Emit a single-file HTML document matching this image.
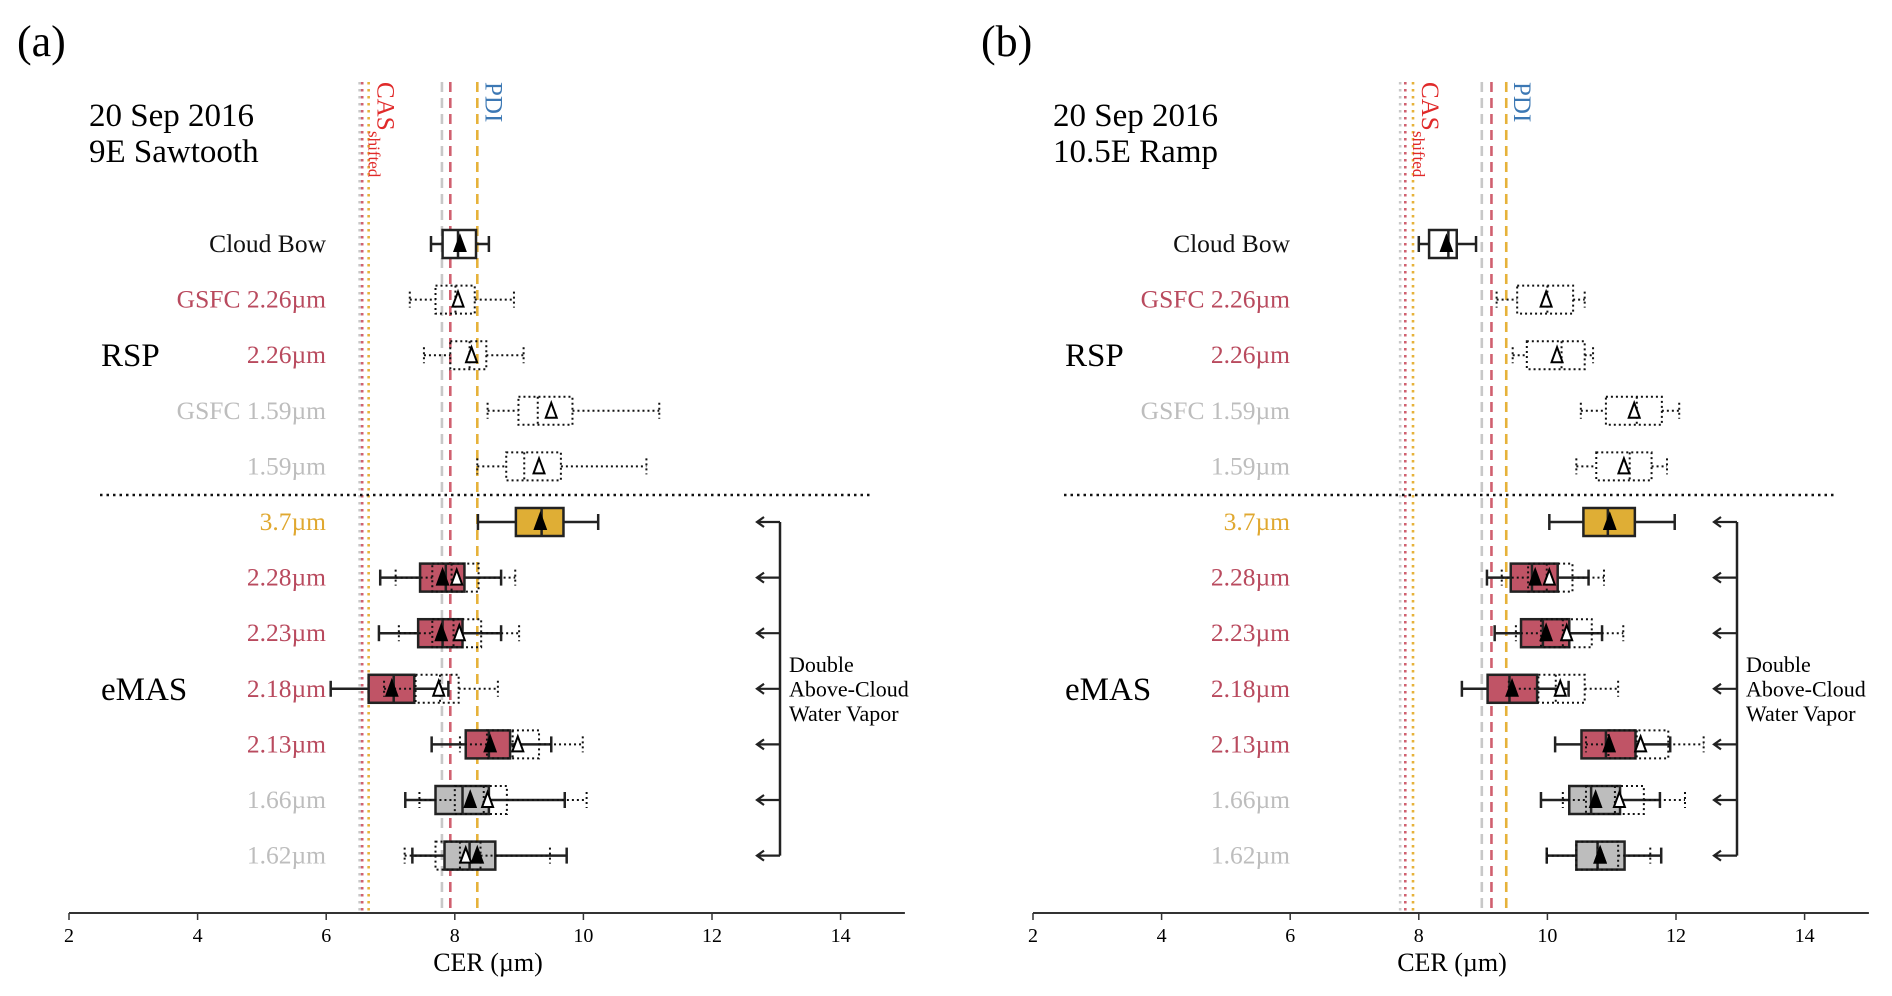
<!DOCTYPE html>
<html><head><meta charset="utf-8"><style>
html,body{margin:0;padding:0;background:#fff;}
svg{display:block;font-family:"Liberation Serif",serif;}
</style></head><body>
<svg id="chart" width="1892" height="996" viewBox="0 0 1892 996" xmlns="http://www.w3.org/2000/svg"></svg>
<script>
const rowLabels = ["Cloud Bow","GSFC 2.26µm","2.26µm","GSFC 1.59µm","1.59µm","3.7µm","2.28µm","2.23µm","2.18µm","2.13µm","1.66µm","1.62µm"];
const rowKinds = ["white","none","none","none","none","yellow","red","red","red","red","gray","gray"];
const labelColors = ["#111","#b94a5e","#b94a5e","#bdbdbd","#bdbdbd","#e0a830","#b94a5e","#b94a5e","#b94a5e","#b94a5e","#bdbdbd","#bdbdbd"];
const ticks = [2,4,6,8,10,12,14];
// [whiskerLow, q1, median, q3, whiskerHigh, mean]
const aSolid = [[7.63,7.81,8.05,8.33,8.53,8.08],null,null,null,null,[8.36,8.95,9.35,9.69,10.23,9.33],[6.84,7.46,7.86,8.15,8.72,7.81],[6.82,7.43,7.81,8.12,8.72,7.79],[6.07,6.66,7.05,7.37,7.90,7.02],[7.64,8.17,8.53,8.86,9.50,8.55],[7.23,7.70,8.12,8.53,9.71,8.24],[7.34,7.84,8.23,8.63,9.74,8.35]];
const aDotted = [null,[7.30,7.70,8.01,8.31,8.92,8.05],[7.52,7.93,8.23,8.49,9.07,8.26],[8.51,8.99,9.29,9.83,11.18,9.50],[8.35,8.80,9.08,9.65,10.98,9.31],null,[7.08,7.65,7.95,8.37,8.94,8.03],[7.13,7.65,7.98,8.41,9.00,8.07],[6.9,7.39,7.77,8.06,8.67,7.75],[8.08,8.5,8.9,9.31,9.99,8.98],[7.45,8.0,8.45,8.81,10.05,8.51],[7.22,7.70,8.08,8.4,9.48,8.17]];
const bSolid = [[8.00,8.16,8.46,8.59,8.89,8.43],null,null,null,null,[10.03,10.56,10.94,11.36,11.98,10.97],[9.06,9.43,9.76,10.16,10.64,9.81],[9.18,9.59,9.93,10.34,10.85,9.98],[8.67,9.07,9.41,9.84,10.33,9.45],[10.12,10.53,10.91,11.37,11.91,10.96],[9.90,10.34,10.68,11.13,11.75,10.75],[9.99,10.45,10.78,11.20,11.77,10.82]];
const bDotted = [null,[9.21,9.53,10.0,10.40,10.58,9.98],[9.46,9.68,10.22,10.58,10.71,10.15],[10.52,10.91,11.39,11.78,12.05,11.35],[10.45,10.76,11.28,11.62,11.86,11.19],null,[9.29,9.7,9.99,10.39,10.88,10.03],[9.51,9.9,10.24,10.69,11.18,10.30],[9.4,9.86,10.13,10.58,11.10,10.2],[10.6,10.95,11.39,11.88,12.43,11.45],[10.24,10.6,11.05,11.50,12.14,11.12],[9.99,10.45,10.78,11.1,11.6,10.82]];
// reference lines: [CAS grey dotted, CAS pink dotted, CAS yellow dotted, grey dashed, red dashed, PDI yellow dashed]
const aRefs = [6.52,6.56,6.66,7.80,7.93,8.35];
const bRefs = [7.71,7.79,7.91,8.98,9.13,9.36];

const NS="http://www.w3.org/2000/svg";
const svg=document.getElementById('chart');
function mk(tag,attrs,parent){const e=document.createElementNS(NS,tag);for(const k in attrs)e.setAttribute(k,attrs[k]);(parent||svg).appendChild(e);return e;}
const fills={white:"#fff",yellow:"#dfae35",red:"#c05466",gray:"#bdbdbd"};
const refColors=["#c8c8c8","#d0606f","#e6b23a","#c8c8c8","#d0606f","#e6b23a"];

function panel(ox, solid, dotted, refs, letter, subtitle, labelRight, bracketX, id){
  const g=mk('g',{});
  
  
  const X=v=>ox+(v-2)*64.3;
  const Y=i=>244+i*55.6;
  const axisY=913;
  let t=mk('text',{x:ox-52,y:56,'font-size':44},g);t.textContent='('+letter+')';
  
  t=mk('text',{x:ox+20,y:126,'font-size':33},g);t.textContent='20 Sep 2016';
  
  t=mk('text',{x:ox+20,y:162,'font-size':33},g);t.textContent=subtitle;
  
  refs.forEach((v,k)=>{
    const l=mk('line',{x1:X(v),x2:X(v),y1:82,y2:axisY,stroke:refColors[k],'stroke-width':2.6,'stroke-dasharray':k<3?'2.5 4.5':'10 6'},g);
    
  });
  let cx=X(refs[2])+9;
  t=mk('text',{x:0,y:0,'font-size':25,fill:'#e02a2a',transform:`translate(${cx},82) rotate(90)`},g);
  t.textContent='CAS';
  t=mk('text',{x:0,y:0,'font-size':17,fill:'#e02a2a',transform:`translate(${cx-9},131) rotate(90)`},g);
  t.textContent='shifted';
  t=mk('text',{x:0,y:0,'font-size':25,fill:'#3c78b4',transform:`translate(${X(refs[5])+8},82) rotate(90)`},g);
  t.textContent='PDI';
  let s=mk('line',{x1:ox+31,x2:ox+802,y1:495,y2:495,stroke:'#111','stroke-width':2.5,'stroke-dasharray':'2.5 4'},g);
  
  t=mk('text',{x:ox+32,y:366,'font-size':33},g);t.textContent='RSP';
  
  t=mk('text',{x:ox+32,y:700,'font-size':33},g);t.textContent='eMAS';
  
  rowLabels.forEach((lab,i)=>{
    const tt=mk('text',{x:labelRight,y:Y(i)+8,'font-size':25.5,'text-anchor':'end',fill:labelColors[i]},g);
    tt.textContent=lab;
    
    
  });
  function tri(x,y,filled){
    const p=mk('polygon',{points:`${x},${y-8} ${x-5.5},${y+7} ${x+5.5},${y+7}`,fill:filled?'#000':'#fff',stroke:'#000','stroke-width':2},g);
    
    
  }
  function box(d,i,dot){
    const y=Y(i), h=14, c=8;
    const st=dot?{stroke:'#111','stroke-width':2,'stroke-dasharray':'2 3',fill:'none'}:{stroke:'#222','stroke-width':2.5};
    const bg=mk('g',{},g);
    
    
    mk('line',Object.assign({x1:X(d[0]),x2:X(d[1]),y1:y,y2:y},st),bg);
    mk('line',Object.assign({x1:X(d[3]),x2:X(d[4]),y1:y,y2:y},st),bg);
    mk('line',Object.assign({x1:X(d[0]),x2:X(d[0]),y1:y-c,y2:y+c},st),bg);
    mk('line',Object.assign({x1:X(d[4]),x2:X(d[4]),y1:y-c,y2:y+c},st),bg);
    const r=Object.assign({x:X(d[1]),y:y-h,width:X(d[3])-X(d[1]),height:2*h},st);
    if(!dot)r.fill=fills[rowKinds[i]];
    mk('rect',r,bg);
    mk('line',Object.assign({x1:X(d[2]),x2:X(d[2]),y1:y-h,y2:y+h},st),bg);
  }
  solid.forEach((d,i)=>{if(d)box(d,i,false);});
  dotted.forEach((d,i)=>{if(d)box(d,i,true);});
  dotted.forEach((d,i)=>{if(d)tri(X(d[5]),Y(i),false);});
  solid.forEach((d,i)=>{if(d)tri(X(d[5]),Y(i),true);});
  const bl=mk('line',{x1:bracketX,x2:bracketX,y1:Y(5),y2:Y(11),stroke:'#222','stroke-width':2.5},g);
  
  for(let i=5;i<12;i++){
    const a=mk('path',{d:`M${bracketX},${Y(i)} H${bracketX-23} M${bracketX-16},${Y(i)-5} L${bracketX-23},${Y(i)} L${bracketX-16},${Y(i)+5}`,stroke:'#222','stroke-width':2.2,fill:'none'},g);
    
  }
  ['Double','Above-Cloud','Water Vapor'].forEach((w,k)=>{
    const tt=mk('text',{x:bracketX+9,y:672+k*24.5,'font-size':22},g);tt.textContent=w;
    
  });
  const ax=mk('line',{x1:X(2),x2:X(15),y1:axisY,y2:axisY,stroke:'#333','stroke-width':2},g);
  
  ticks.forEach(v=>{
    mk('line',{x1:X(v),x2:X(v),y1:axisY,y2:axisY+7,stroke:'#333','stroke-width':1.5},g);
    const tt=mk('text',{x:X(v),y:axisY+29,'font-size':20,'text-anchor':'middle'},g);
    tt.textContent=v;
    
  });
  t=mk('text',{x:X(2)+419,y:971,'font-size':26,'text-anchor':'middle'},g);t.textContent='CER (µm)';
  
}
panel(69,aSolid,aDotted,aRefs,'a','9E Sawtooth',326,780,'a');
panel(1033,bSolid,bDotted,bRefs,'b','10.5E Ramp',1290,1737,'b');
</script>
</body></html>
